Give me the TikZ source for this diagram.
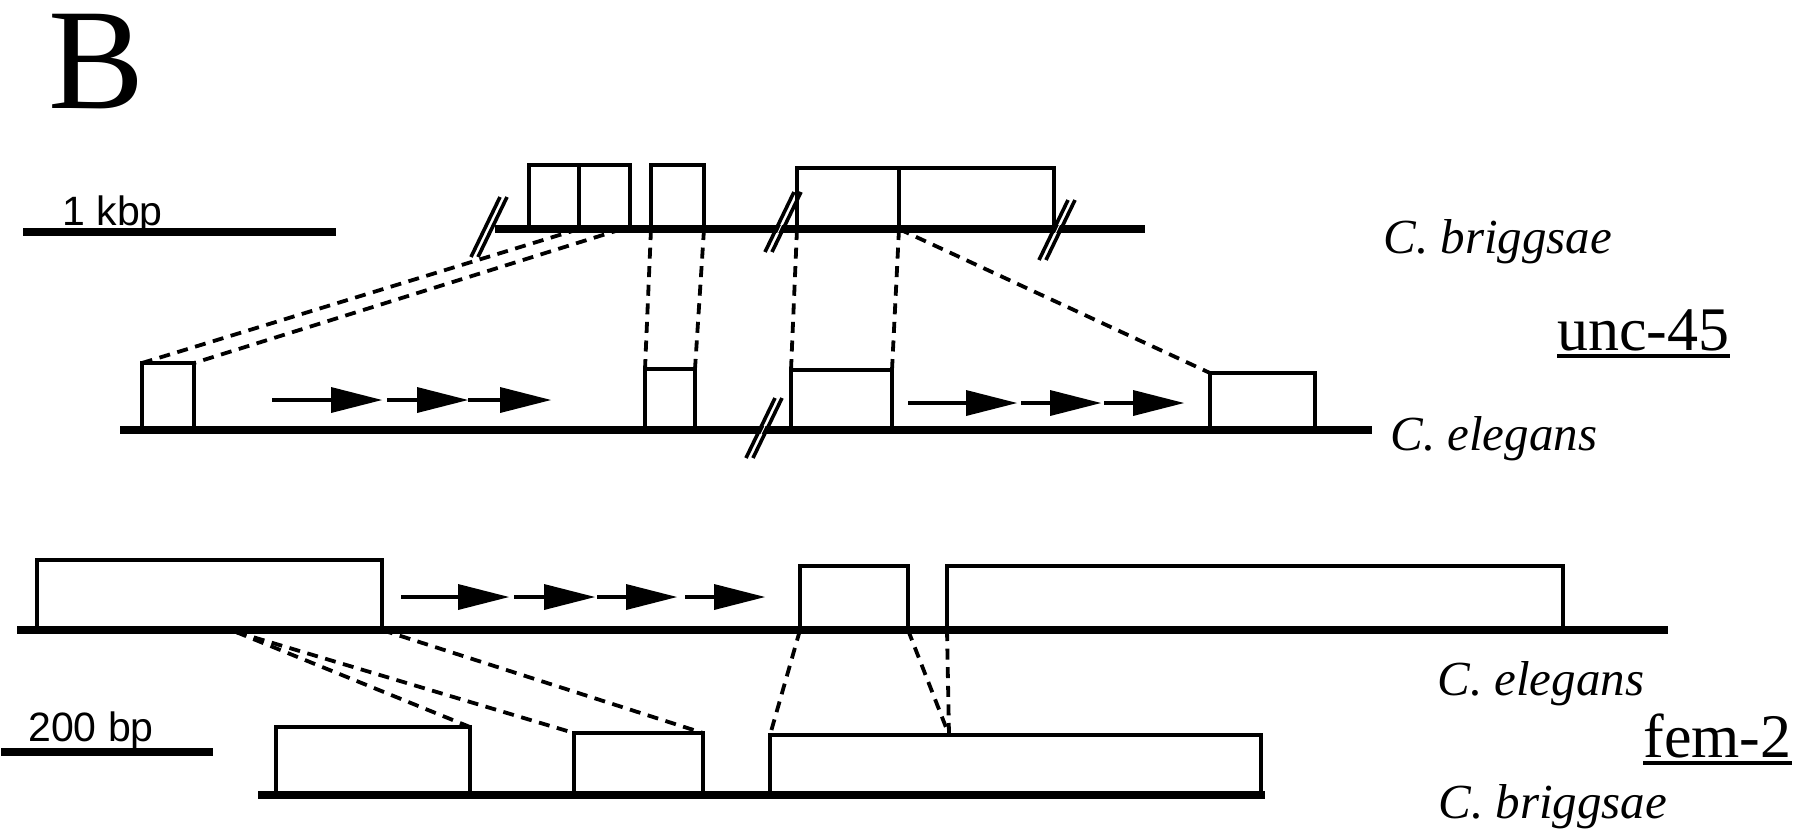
\documentclass[tikz,border=0pt]{standalone}
\usepackage{fontspec}
\setmainfont{Liberation Serif}
\newfontfamily\labsans{Liberation Sans}
\usetikzlibrary{fit}
\begin{document}
\begin{tikzpicture}[x=0.5pt,y=-0.5pt,
  dna/.style={line width=4.3pt},
  scalebar/.style={line width=4.3pt},
  exon/.style={draw, line width=1.9pt, inner sep=0pt, outer sep=0pt},
  hom/.style={line width=1.9pt, dash pattern=on 5.5pt off 3.8pt},
  lab/.style={inner sep=0pt, anchor=base west},
  species/.style={lab, font=\fontsize{24.5}{28}\selectfont\itshape},
  gene/.style={lab, font=\fontsize{31}{36}\selectfont},
  scalelab/.style={lab, font=\labsans\fontsize{20.5}{24}\selectfont},
  arrseg/.pic={\draw[line width=2pt] (0,0) -- (#1,0);
               \fill (#1,-13) -- (#1+51,0) -- (#1,13) -- cycle;},
  brk/.pic={\fill[white] (-15,30) -- (14,-30) -- (15,-30) -- (-14,30) -- cycle;
            \draw[line width=1.8pt] (-18,30) -- (11,-30);
            \draw[line width=1.8pt] (-11,30) -- (18,-30);}
]
\useasboundingbox (0,0) rectangle (1800,832);

% ---------- labels ----------
\node[lab, font=\fontsize{72}{78}\selectfont] (B) at (48,108) {B};
\node[scalelab] (kb) at (62,225) {1 kbp};
\node[scalelab] (bp) at (28,741) {200 bp};
\node[species] (ubsp) at (1383,253) {C. briggsae};
\node[gene] (ug) at (1557,350) {unc-45};
\node[species] (uesp) at (1390,450) {C. elegans};
\node[species] (fesp) at (1437,695) {C. elegans};
\node[gene] (fg) at (1643,757) {fem-2};
\node[species] (fbsp) at (1438,818) {C. briggsae};
\draw[line width=1.6pt] ([yshift=-3pt]ug.base west) -- ([yshift=-3pt]ug.base east);
\draw[line width=1.6pt] ([yshift=-3pt]fg.base west) -- ([yshift=-3pt]fg.base east);

% ---------- scale bars ----------
\coordinate (kbL) at (23,232); \coordinate (kbR) at (336,232);
\draw[scalebar] (kbL) -- (kbR);
\coordinate (bpL) at (1,752); \coordinate (bpR) at (213,752);
\draw[scalebar] (bpL) -- (bpR);

% ---------- unc-45 : C. briggsae ----------
\coordinate (ubL) at (495,229); \coordinate (ubR) at (1145,229);
\draw[dna] (ubL) -- (ubR);
\pic at (489,227) {brk};
\pic at (783,222) {brk};
\pic at (1057,230) {brk};
\node[exon, fit={(529,165) (579,229)}] (ub1) {};
\node[exon, fit={(579,165) (630,229)}] (ub2) {};
\node[exon, fit={(651,165) (704,229)}] (ub3) {};
\node[exon, fit={(797,168) (899,229)}] (ub4) {};
\node[exon, fit={(899,168) (1054,229)}] (ub5) {};

% ---------- unc-45 : C. elegans ----------
\coordinate (ueL) at (120,430); \coordinate (ueR) at (1372,430);
\draw[dna] (ueL) -- (ueR);
\pic at (764,428) {brk};
\node[exon, fit={(142,363) (194,430)}] (ue1) {};
\node[exon, fit={(645,369) (695,430)}] (ue2) {};
\node[exon, fit={(791,370) (892,430)}] (ue3) {};
\node[exon, fit={(1210,373) (1315,430)}] (ue4) {};
\pic at (272,400) {arrseg=59};
\pic at (387,400) {arrseg=30};
\pic at (468,400) {arrseg=32};
\pic at (908,403) {arrseg=58};
\pic at (1021,403) {arrseg=29};
\pic at (1104,403) {arrseg=29};

% homology connectors unc-45
\draw[hom] (ub2.south west) -- (ue1.north west);
\draw[hom] ([xshift=-4pt]ub2.south east) -- (ue1.north east);
\draw[hom] (ub3.south west) -- (ue2.north west);
\draw[hom] (ub3.south east) -- (ue2.north east);
\draw[hom] (ub4.south west) -- (ue3.north west);
\draw[hom] (ub4.south east) -- (ue3.north east);
\draw[hom] (ub5.south west) -- (ue4.north west);

% ---------- fem-2 : C. elegans ----------
\coordinate (feL) at (17,630); \coordinate (feR) at (1668,630);
\draw[dna] (feL) -- (feR);
\node[exon, fit={(37,560) (382,630)}] (fe1) {};
\node[exon, fit={(800,566) (908,630)}] (fe2) {};
\node[exon, fit={(947,566) (1563,630)}] (fe3) {};
\pic at (401,597) {arrseg=57};
\pic at (514,597) {arrseg=30};
\pic at (597,597) {arrseg=29};
\pic at (685,597) {arrseg=29};

% ---------- fem-2 : C. briggsae ----------
\coordinate (fbL) at (258,795); \coordinate (fbR) at (1265,795);
\draw[dna] (fbL) -- (fbR);
\node[exon, fit={(276,727) (470,795)}] (fb1) {};
\node[exon, fit={(574,733) (703,795)}] (fb2) {};
\node[exon, fit={(770,735) (1261,795)}] (fb3) {};

% homology connectors fem-2
\coordinate (fs) at (236,632);
\coordinate (fm) at (949,735);
\draw[hom] (fs) -- (fb1.north east);
\draw[hom] (fs) -- (fb2.north west);
\draw[hom] (fe1.south east) -- (fb2.north east);
\draw[hom] (fe2.south west) -- (fb3.north west);
\draw[hom] (fe2.south east) -- (fm);
\draw[hom] (fe3.south west) -- (fm);
\end{tikzpicture}
\end{document}
